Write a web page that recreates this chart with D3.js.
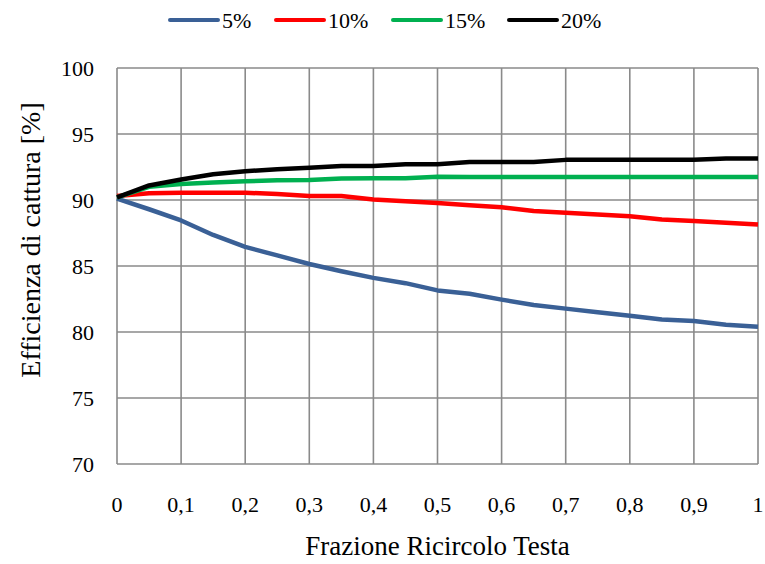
<!DOCTYPE html>
<html><head><meta charset="utf-8">
<script src="https://cdn.jsdelivr.net/npm/d3@7"></script>
<style>body{margin:0;background:#fff}svg{display:block}
svg text{font-family:"Liberation Serif","Times New Roman","DejaVu Serif",serif;}</style>
</head><body>
<script>
const xValues = [0,0.05,0.1,0.15,0.2,0.25,0.3,0.35,0.4,0.45,0.5,0.55,0.6,0.65,0.7,0.75,0.8,0.85,0.9,0.95,1];
const seriesNames = ["5%","10%","15%","20%"];
const s5  = [90.1,89.3,88.45,87.35,86.45,85.8,85.15,84.6,84.1,83.7,83.15,82.9,82.45,82.05,81.77,81.5,81.23,80.95,80.83,80.55,80.4];
const s10 = [90.3,90.52,90.55,90.55,90.55,90.45,90.3,90.3,90.04,89.9,89.78,89.6,89.45,89.17,89.03,88.9,88.77,88.52,88.4,88.27,88.14];
const s15 = [90.2,91.0,91.22,91.32,91.42,91.5,91.52,91.62,91.65,91.65,91.77,91.75,91.75,91.75,91.75,91.75,91.75,91.75,91.75,91.75,91.75];
const s20 = [90.2,91.1,91.55,91.95,92.18,92.33,92.45,92.58,92.58,92.7,92.7,92.88,92.88,92.88,93.04,93.04,93.04,93.04,93.04,93.15,93.15];
const colors = ["#3A6096","#FF0000","#00B050","#000000"];
const xTicks = [0,0.1,0.2,0.3,0.4,0.5,0.6,0.7,0.8,0.9,1];
const yTicks = [70,75,80,85,90,95,100];
const xTitle = "Frazione Ricircolo Testa";
const yTitle = "Efficienza di cattura [%]";

const W=765,H=564;
const L=117,R=758,T=68,B=464;
const svg=d3.select("body").append("svg").attr("width",W).attr("height",H);
const x=d3.scaleLinear().domain([0,1]).range([L,R]);
const y=d3.scaleLinear().domain([70,100]).range([B,T]);

// grid
const g=svg.append("g");
g.selectAll(".vg").data(xTicks).enter().append("line")
 .attr("x1",d=>x(d)).attr("x2",d=>x(d)).attr("y1",T).attr("y2",B)
 .attr("stroke","#8a8a8a").attr("stroke-width",1.6);
g.selectAll(".hg").data(yTicks).enter().append("line")
 .attr("x1",L).attr("x2",R).attr("y1",d=>y(d)).attr("y2",d=>y(d))
 .attr("stroke","#8a8a8a").attr("stroke-width",1.6);

// axes labels
const fmt=d=>String(d).replace(".",",");
svg.append("g").selectAll("text").data(xTicks).enter().append("text")
 .attr("x",d=>x(d)).attr("y",512).attr("text-anchor","middle")
 .style("font-size","22px").text(fmt);
svg.append("g").selectAll("text").data(yTicks).enter().append("text")
 .attr("x",94).attr("y",d=>y(d)+8).attr("text-anchor","end")
 .style("font-size","22px").text(d=>d);

svg.append("text").attr("x",(L+R)/2).attr("y",555).attr("text-anchor","middle")
 .style("font-size","27px").text(xTitle);
svg.append("text").attr("transform",`translate(40,240) rotate(-90)`)
 .attr("text-anchor","middle").style("font-size","28px").text(yTitle);

// lines
const all=[s5,s10,s15,s20];
const line=d3.line().x((d,i)=>x(xValues[i])).y(d=>y(d));
all.forEach((s,i)=>{
  svg.append("path").datum(s).attr("d",line).attr("fill","none")
   .attr("stroke",colors[i]).attr("stroke-width",4.5).attr("stroke-linejoin","round");
});

// legend
const legX=[170,276,393,509];
seriesNames.forEach((n,i)=>{
  svg.append("line").attr("x1",legX[i]).attr("x2",legX[i]+48).attr("y1",20).attr("y2",20)
   .attr("stroke",colors[i]).attr("stroke-width",4).attr("stroke-linecap","round");
  svg.append("text").attr("x",legX[i]+52).attr("y",28)
   .style("font-size","22px").text(n);
});
</script>
</body></html>
